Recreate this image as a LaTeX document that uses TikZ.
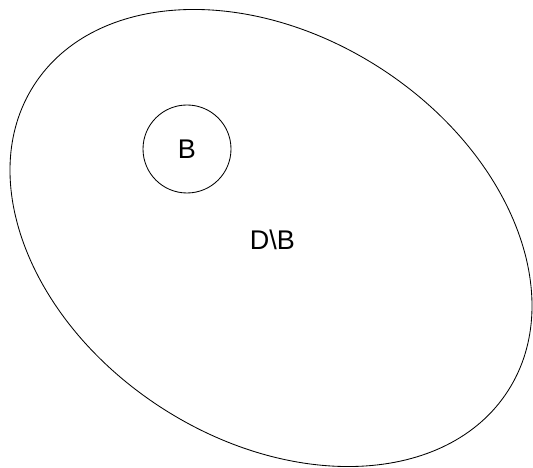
\documentclass[tikz,border=0pt]{standalone}
\usepackage{fontspec}
\setmainfont{Liberation Sans}
\begin{document}
\begin{tikzpicture}[x=1pt,y=1pt,
  outline/.style={draw=black,line width=0.85pt},
  lbl/.style={font=\fontsize{27}{30}\selectfont,inner sep=0pt}]
\useasboundingbox (0,0) rectangle (533,468);
\draw[outline] (271,230) ellipse [x radius=282, y radius=202, rotate=-32.9];
\node[outline,circle,minimum size=88pt,inner sep=0pt,lbl] (B) at (187,319) {\raisebox{-3pt}{B}};
\node[lbl] (DB) at (272.5,228) {D\textbackslash B};
\end{tikzpicture}
\end{document}
